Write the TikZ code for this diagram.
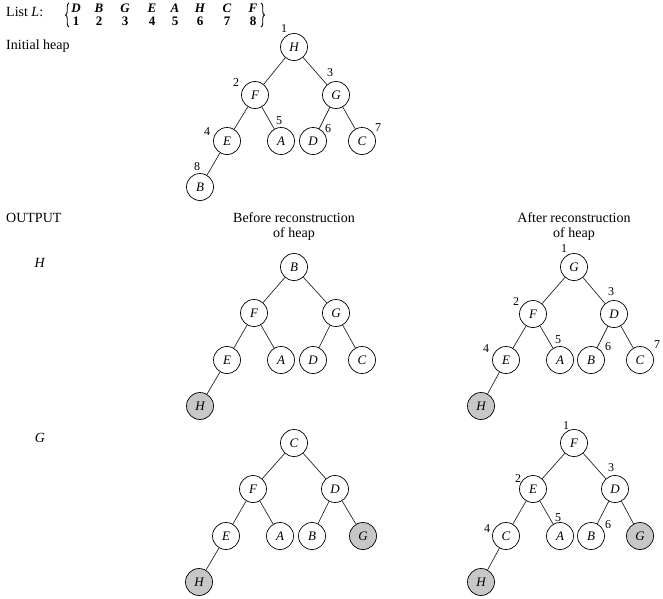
\documentclass[tikz,border=0pt]{standalone}
\usepackage{fontspec}
\setmainfont{Liberation Serif}
\usetikzlibrary{decorations.pathreplacing}
\begin{document}
\begin{tikzpicture}[x=1pt,y=-1pt,
  vtx/.style={circle,draw,line width=0.7pt,minimum size=27pt,inner sep=0pt,font=\fontsize{13}{14}\selectfont\itshape},
  shd/.style={vtx,fill=black!22},
  edge/.style={line width=0.7pt,draw=black!85},
  num/.style={inner sep=0pt,font=\fontsize{12}{13}\selectfont},
  txt/.style={inner sep=0pt,font=\fontsize{14}{16}\selectfont},
  brc/.style={line width=0.9pt,decorate,decoration={brace,amplitude=3.5pt,aspect=0.5}},
  lst/.style={inner sep=0pt,font=\fontsize{13}{14}\selectfont\bfseries}]
\useasboundingbox (0,0) rectangle (663,598);

% List L
\node[txt,anchor=west] (listL) at (6,12) {List \textit{L}:};
\coordinate (lbt) at (69,3);
\coordinate (lbb) at (69,27);
\coordinate (rbt) at (261,3);
\coordinate (rbb) at (261,27);
\draw[brc] (lbb) -- (lbt);
\draw[brc] (rbt) -- (rbb);
\foreach \l/\n/\x [count=\i] in {D/1/76,B/2/99,G/3/125,E/4/152,A/5/175,H/6/200,C/7/227,F/8/253}{
  \node[lst] (ll\i) at (\x,8) {\textit{\l}};
  \node[lst] (ln\i) at (\x,21) {\n};
}
\node[txt,anchor=west] (init) at (6,46) {Initial heap};
\node[txt,anchor=west] (out) at (6,218) {OUTPUT};
\node[txt] (oH) at (40,263) {\textit{H}};
\node[txt] (oG) at (40,438) {\textit{G}};
\node[txt] (bef1) at (294,218) {Before reconstruction};
\node[txt] (bef2) at (294,234) {of heap};
\node[txt] (aft1) at (574,218) {After reconstruction};
\node[txt] (aft2) at (574,234) {of heap};

% Tree 1: initial heap
\node[vtx] (a1) at (294,47) {H};
\node[vtx] (a2) at (255,95) {F};
\node[vtx] (a3) at (336,95) {G};
\node[vtx] (a4) at (227,141) {E};
\node[vtx] (a5) at (281,141) {A};
\node[vtx] (a6) at (313,141) {D};
\node[vtx] (a7) at (362,141) {C};
\node[vtx] (a8) at (200,187) {B};
\draw[edge] (a1)--(a2) (a1)--(a3) (a2)--(a4) (a2)--(a5) (a3)--(a6) (a3)--(a7) (a4)--(a8);
\node[num] (an1) at (284,29) {1};
\node[num] (an2) at (236,83) {2};
\node[num] (an3) at (330,73) {3};
\node[num] (an4) at (207,132) {4};
\node[num] (an5) at (279,121) {5};
\node[num] (an6) at (328,129) {6};
\node[num] (an7) at (378,128) {7};
\node[num] (an8) at (197,167) {8};

% Tree 2: before reconstruction (H)
\node[vtx] (b1) at (294,267) {B};
\node[vtx] (b2) at (254,313) {F};
\node[vtx] (b3) at (336,313) {G};
\node[vtx] (b4) at (227,360) {E};
\node[vtx] (b5) at (281,360) {A};
\node[vtx] (b6) at (313,360) {D};
\node[vtx] (b7) at (362,360) {C};
\node[shd] (b8) at (200,406) {H};
\draw[edge] (b1)--(b2) (b1)--(b3) (b2)--(b4) (b2)--(b5) (b3)--(b6) (b3)--(b7) (b4)--(b8);

% Tree 3: after reconstruction (H)
\node[vtx] (c1) at (574,267) {G};
\node[vtx] (c2) at (533,314) {F};
\node[vtx] (c3) at (614,314) {D};
\node[vtx] (c4) at (506,360) {E};
\node[vtx] (c5) at (560,360) {A};
\node[vtx] (c6) at (591,360) {B};
\node[vtx] (c7) at (640,360) {C};
\node[shd] (c8) at (481,406) {H};
\draw[edge] (c1)--(c2) (c1)--(c3) (c2)--(c4) (c2)--(c5) (c3)--(c6) (c3)--(c7) (c4)--(c8);
\node[num] (cn1) at (564,249) {1};
\node[num] (cn2) at (516,302) {2};
\node[num] (cn3) at (611,292) {3};
\node[num] (cn4) at (486,349) {4};
\node[num] (cn5) at (558,340) {5};
\node[num] (cn6) at (608,347) {6};
\node[num] (cn7) at (657,345) {7};

% Tree 4: before reconstruction (G)
\node[vtx] (d1) at (294,443) {C};
\node[vtx] (d2) at (253,489) {F};
\node[vtx] (d3) at (335,489) {D};
\node[vtx] (d4) at (226,536) {E};
\node[vtx] (d5) at (280,536) {A};
\node[vtx] (d6) at (312,536) {B};
\node[shd] (d7) at (363,536) {G};
\node[shd] (d8) at (199,582) {H};
\draw[edge] (d1)--(d2) (d1)--(d3) (d2)--(d4) (d2)--(d5) (d3)--(d6) (d3)--(d7) (d4)--(d8);

% Tree 5: after reconstruction (G)
\node[vtx] (e1) at (574,443) {F};
\node[vtx] (e2) at (533,489) {E};
\node[vtx] (e3) at (615,489) {D};
\node[vtx] (e4) at (506,536) {C};
\node[vtx] (e5) at (560,536) {A};
\node[vtx] (e6) at (591,536) {B};
\node[shd] (e7) at (640,536) {G};
\node[shd] (e8) at (481,582) {H};
\draw[edge] (e1)--(e2) (e1)--(e3) (e2)--(e4) (e2)--(e5) (e3)--(e6) (e3)--(e7) (e4)--(e8);
\node[num] (en1) at (566,426) {1};
\node[num] (en2) at (518,479) {2};
\node[num] (en3) at (611,468) {3};
\node[num] (en4) at (487,529) {4};
\node[num] (en5) at (558,518) {5};
\node[num] (en6) at (608,525) {6};
\end{tikzpicture}
\end{document}
